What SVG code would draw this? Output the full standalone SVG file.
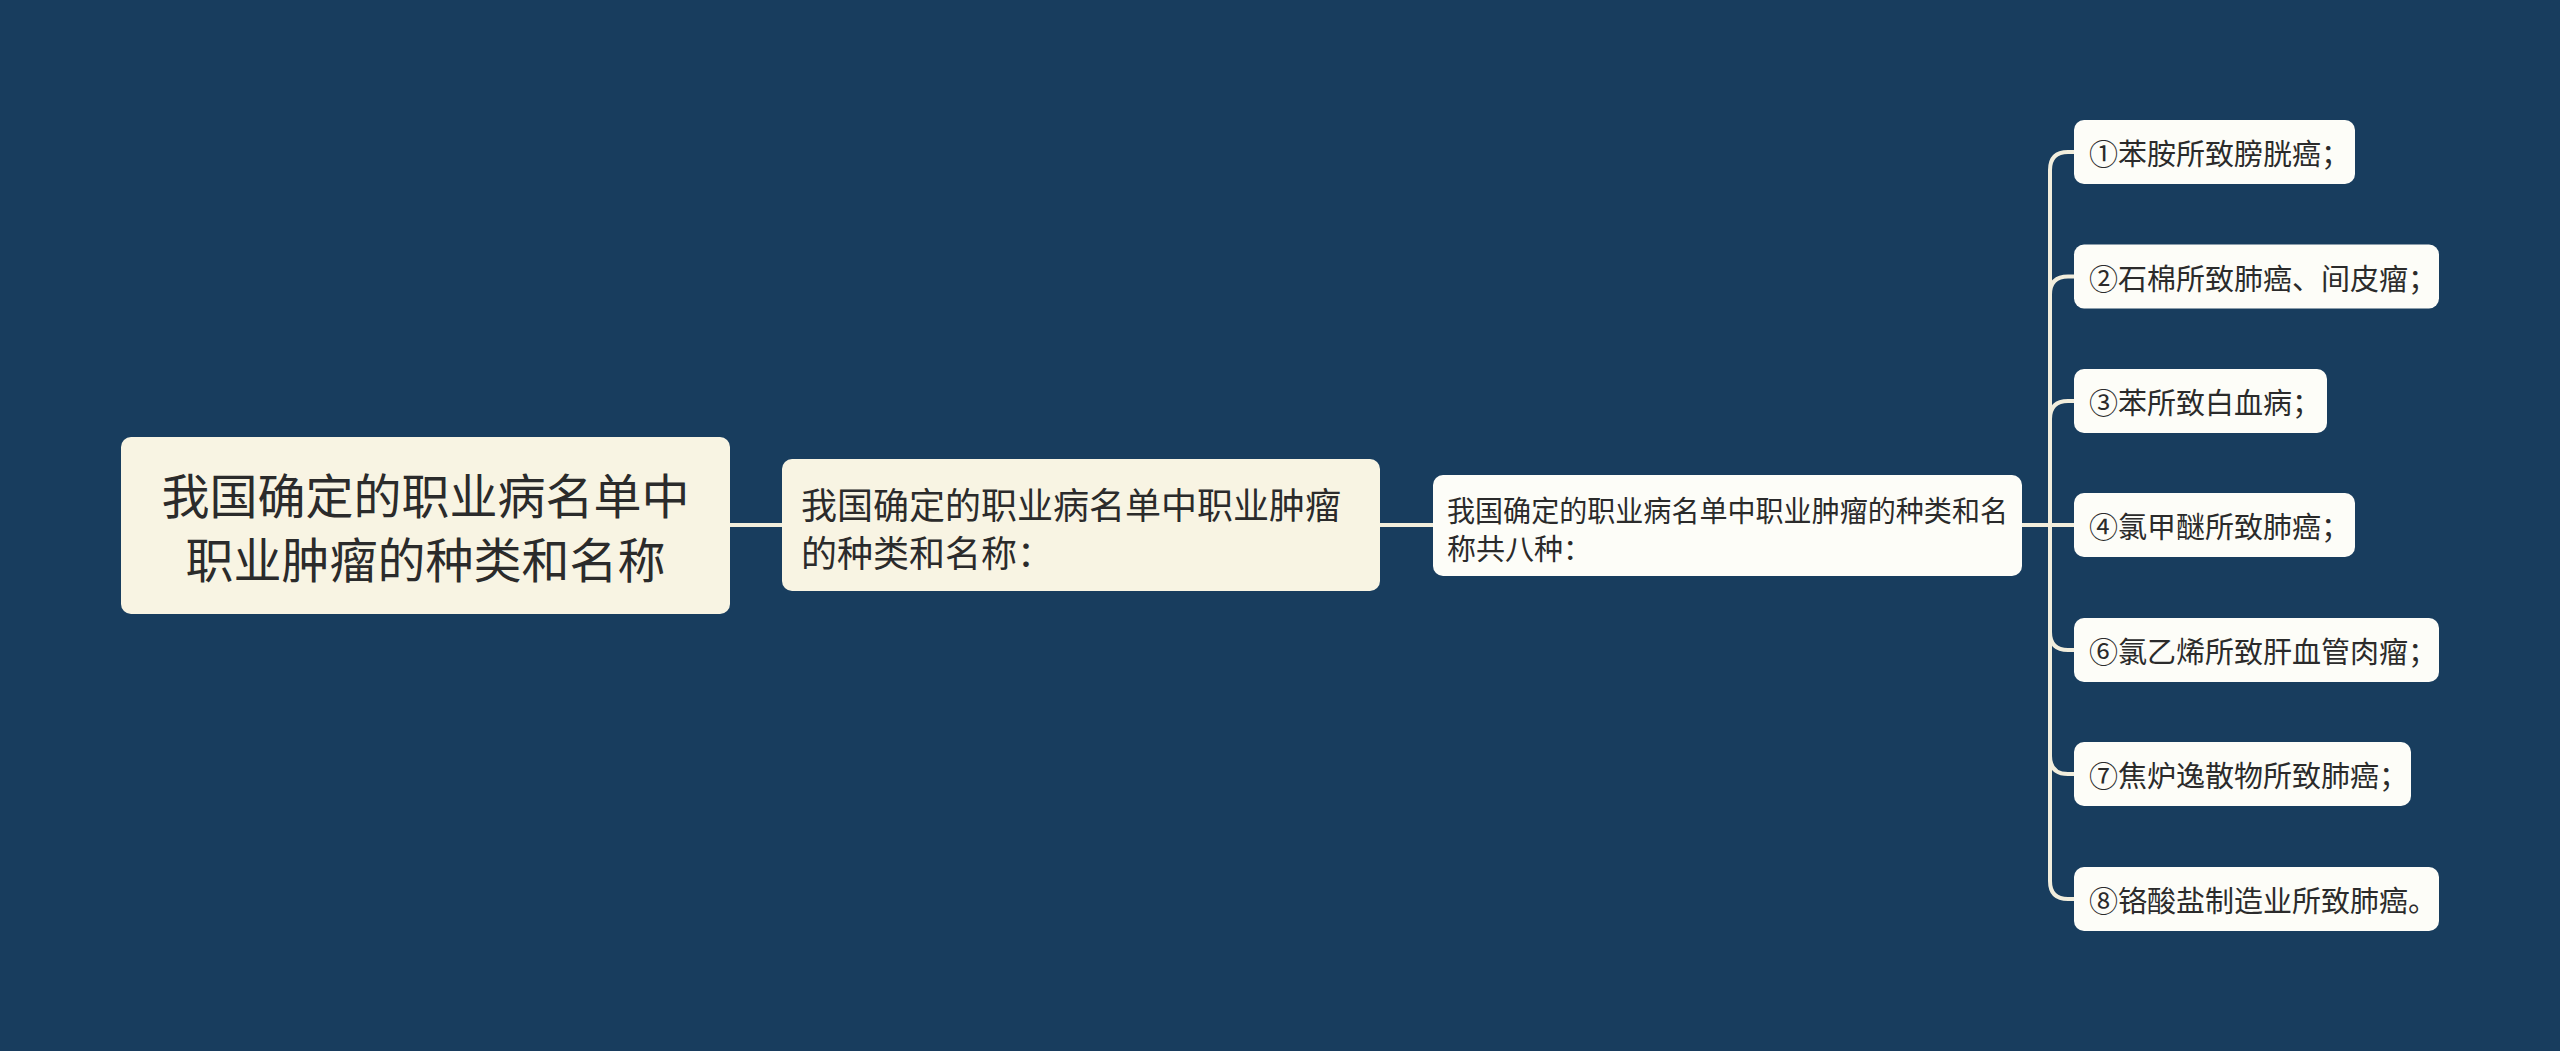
<svg xmlns="http://www.w3.org/2000/svg" width="2560" height="1051" viewBox="0 0 2560 1051">
<style>
text{font-family:"Noto Sans CJK SC","Noto Sans",sans-serif;fill:#2b2b2b;dominant-baseline:central}
.cream{fill:#f8f4e3}
.white{fill:#fdfdf8}
.leaf text{font-size:29px}
.conn path{fill:none;stroke:#f2eedd;stroke-width:4;stroke-linecap:round}
</style>
<rect width="2560" height="1051" fill="#183d5e"/>
<g class="conn">
<path d="M730,525 H782"/>
<path d="M1380,525 H1433"/>
<path d="M2022,525 H2074"/>
<path d="M2050,525 V170 Q2050,152 2068,152 H2074"/>
<path d="M2050,525 V294.5 Q2050,276.5 2068,276.5 H2074"/>
<path d="M2050,525 V419 Q2050,401 2068,401 H2074"/>
<path d="M2050,525 V632 Q2050,650 2068,650 H2074"/>
<path d="M2050,525 V756 Q2050,774 2068,774 H2074"/>
<path d="M2050,525 V881 Q2050,899 2068,899 H2074"/>
</g>
<g id="root">
<rect class="cream" x="121" y="437" width="609" height="177" rx="10"/>
<text x="425.5" y="493" font-size="48" text-anchor="middle">我国确定的职业病名单中</text>
<text x="425.5" y="557" font-size="48" text-anchor="middle">职业肿瘤的种类和名称</text>
</g>
<g id="n2">
<rect class="cream" x="782" y="459" width="598" height="132" rx="10"/>
<text x="801" y="503" font-size="36" textLength="540" lengthAdjust="spacingAndGlyphs">我国确定的职业病名单中职业肿瘤</text>
<text x="801" y="551" font-size="36">的种类和名称：</text>
</g>
<g id="n3">
<rect class="white" x="1433" y="475" width="589" height="101" rx="10"/>
<text x="1447" y="509" font-size="29" textLength="561" lengthAdjust="spacingAndGlyphs">我国确定的职业病名单中职业肿瘤的种类和名</text>
<text x="1447" y="547" font-size="29">称共八种：</text>
</g>
<g id="leaf1" class="leaf"><rect class="white" x="2074" y="120" width="281" height="64" rx="10"/><text x="2089" y="152">①苯胺所致膀胱癌；</text></g>
<g id="leaf2" class="leaf"><rect class="white" x="2074" y="244.5" width="365" height="64" rx="10"/><text x="2089" y="276.5">②石棉所致肺癌、间皮瘤；</text></g>
<g id="leaf3" class="leaf"><rect class="white" x="2074" y="369" width="253" height="64" rx="10"/><text x="2089" y="401">③苯所致白血病；</text></g>
<g id="leaf4" class="leaf"><rect class="white" x="2074" y="493" width="281" height="64" rx="10"/><text x="2089" y="525">④氯甲醚所致肺癌；</text></g>
<g id="leaf6" class="leaf"><rect class="white" x="2074" y="618" width="365" height="64" rx="10"/><text x="2089" y="650">⑥氯乙烯所致肝血管肉瘤；</text></g>
<g id="leaf7" class="leaf"><rect class="white" x="2074" y="742" width="337" height="64" rx="10"/><text x="2089" y="774">⑦焦炉逸散物所致肺癌；</text></g>
<g id="leaf8" class="leaf"><rect class="white" x="2074" y="867" width="365" height="64" rx="10"/><text x="2089" y="899">⑧铬酸盐制造业所致肺癌。</text></g>
</svg>
